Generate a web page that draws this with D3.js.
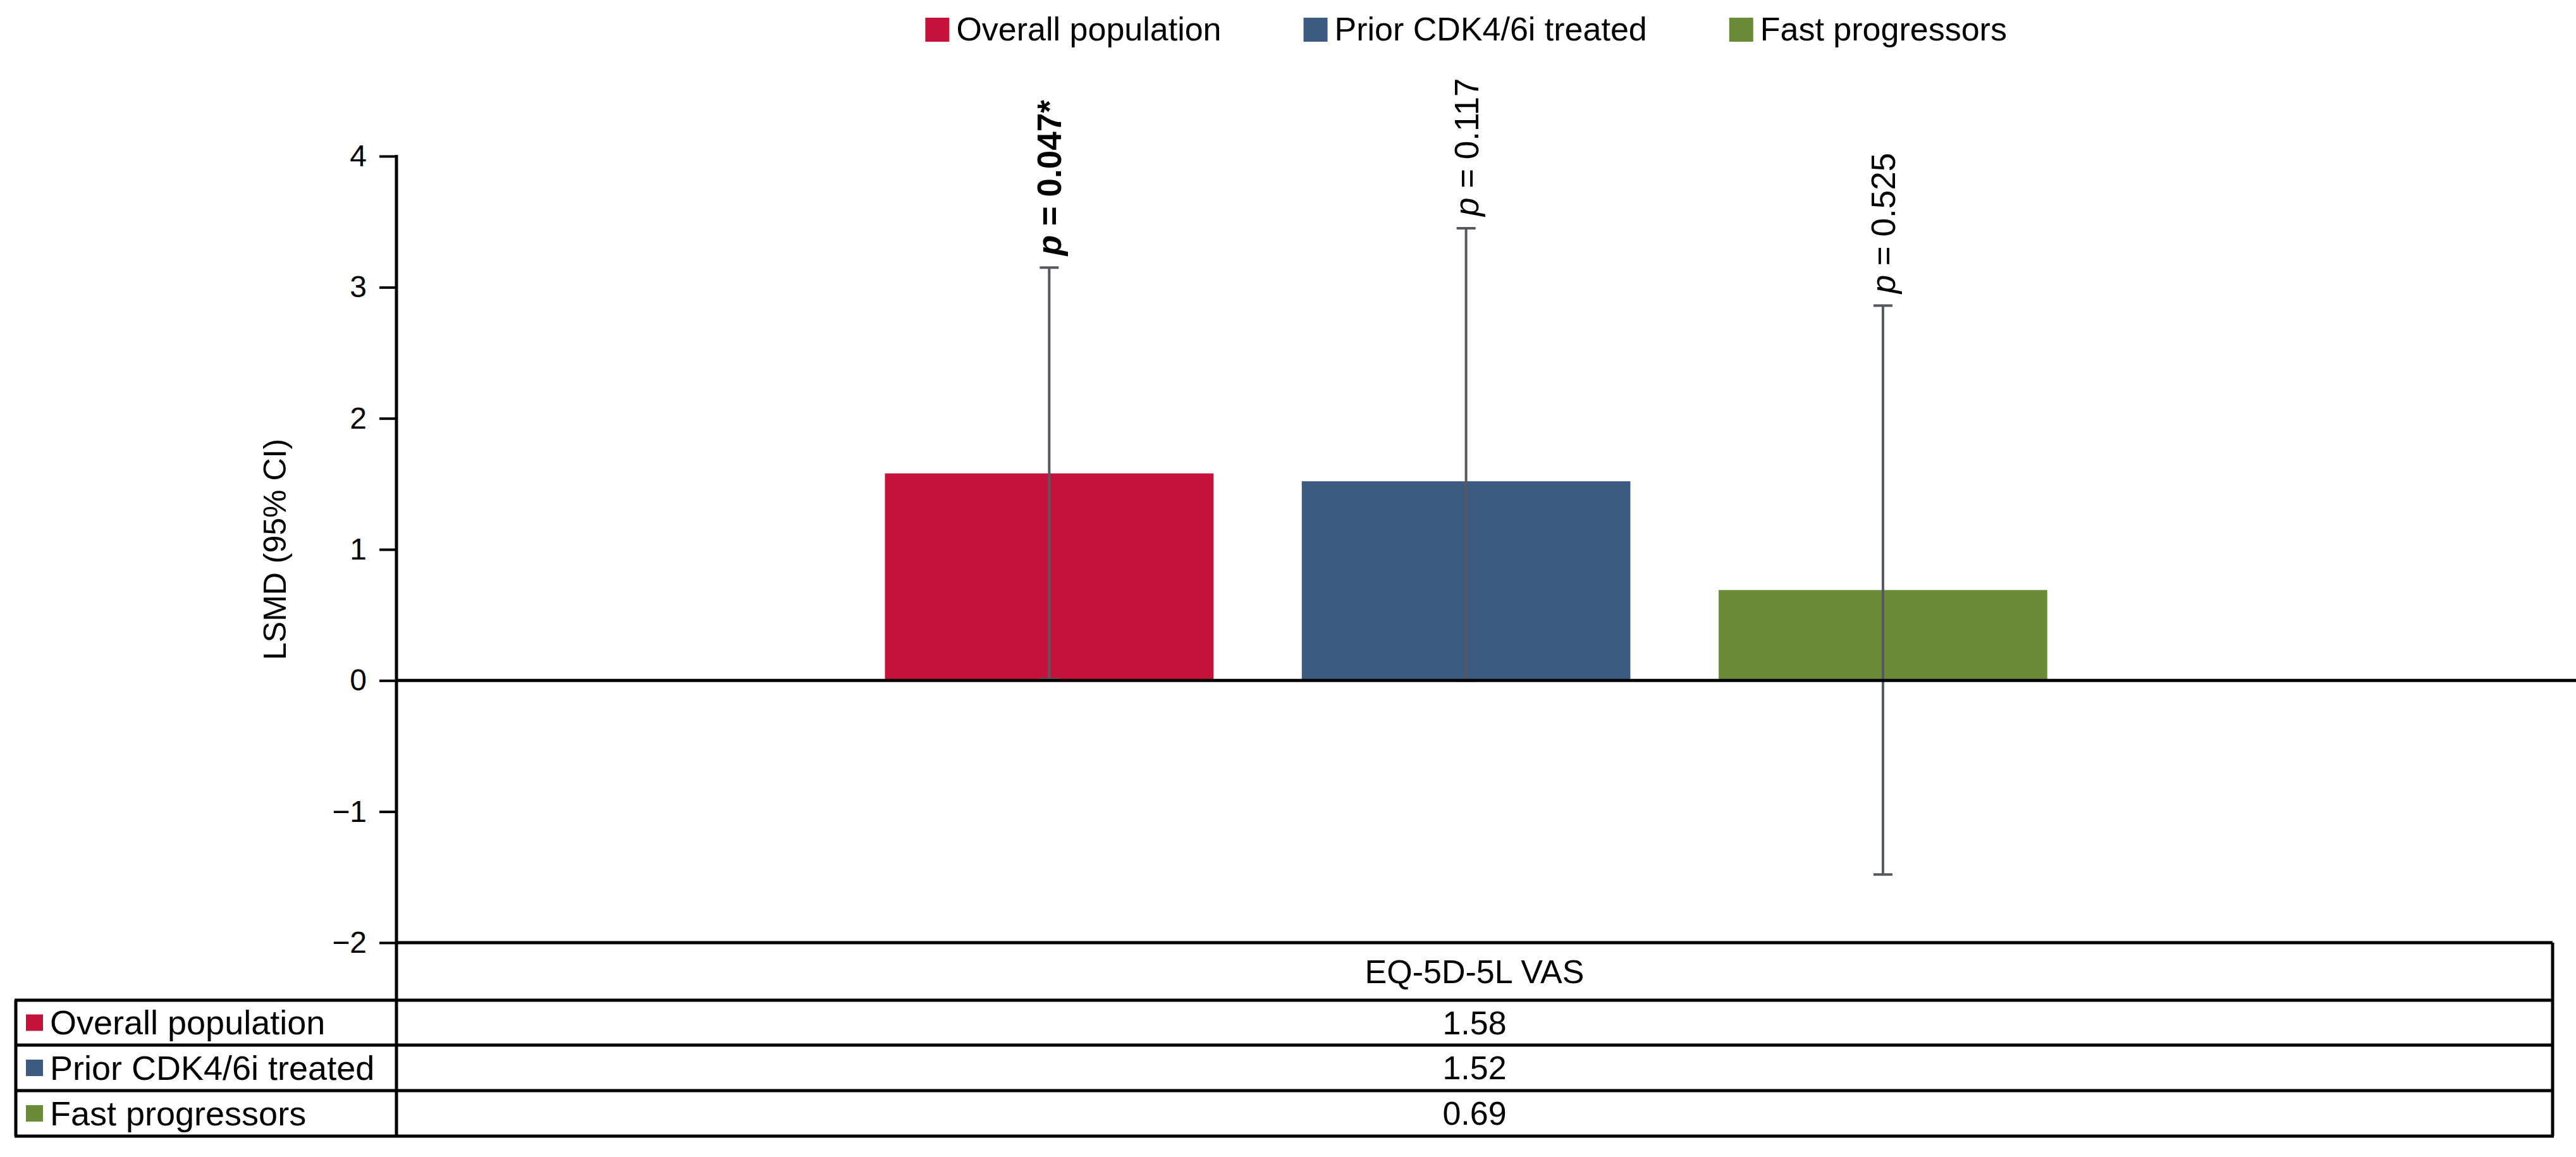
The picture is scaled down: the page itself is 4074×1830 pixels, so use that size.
<!DOCTYPE html>
<html><head><meta charset="utf-8">
<script src="https://cdn.jsdelivr.net/npm/d3@7"></script>
<style>
body{margin:0;background:#fff}
svg{display:block;font-family:"Liberation Sans",Arial,Helvetica,sans-serif}
</style>
</head><body>
<svg id="chart" width="4074" height="1830"></svg>
<script>
// ---- data ----
const categories = ["Overall population", "Prior CDK4/6i treated", "Fast progressors"];
const lsmd = [1.58, 1.52, 0.69];
const ciLower = [0.01, 0, -1.48];
const ciUpper = [3.15, 3.45, 2.86];
const pValues = ["0.047*", "0.117", "0.525"];
const pBold = [true, false, false];
const colors = ["#C4123A", "#3D5A80", "#6A8B38"];
const yTicks = [4, 3, 2, 1, 0, -1, -2];
const yTitle = "LSMD (95% CI)";
const tableHeader = "EQ-5D-5L VAS";

// ---- layout ----
const W = 4074, H = 1830;
const axisX = 627, tableRight = 4037, tableLeft = 25;
const svg = d3.select("#chart");

const y = d3.scaleLinear().domain([-2, 4]).range([1491, 247]);
const x = d3.scaleBand().domain(categories).range([axisX, tableRight])
  .paddingInner(0.2118).paddingOuter(1.192).align(0.4915);
const color = d3.scaleOrdinal().domain(categories).range(colors);

// bars
svg.append("g").selectAll("rect").data(categories).join("rect")
  .attr("x", d => x(d)).attr("width", x.bandwidth())
  .attr("y", (d, i) => y(Math.max(0, lsmd[i])))
  .attr("height", (d, i) => Math.abs(y(lsmd[i]) - y(0)))
  .attr("fill", d => color(d));

// error bars
const eb = svg.append("g").attr("stroke", "#55585e").attr("stroke-width", 4);
categories.forEach((c, i) => {
  const cx = x(c) + x.bandwidth() / 2;
  eb.append("line").attr("x1", cx).attr("x2", cx).attr("y1", y(ciUpper[i])).attr("y2", y(ciLower[i]));
  eb.append("line").attr("x1", cx - 15).attr("x2", cx + 15).attr("y1", y(ciUpper[i])).attr("y2", y(ciUpper[i]));
  eb.append("line").attr("x1", cx - 15).attr("x2", cx + 15).attr("y1", y(ciLower[i])).attr("y2", y(ciLower[i]));
});

// p labels
categories.forEach((c, i) => {
  const cx = x(c) + x.bandwidth() / 2;
  const t = svg.append("text")
    .attr("transform", `translate(${cx},${y(ciUpper[i]) - 19}) rotate(-90)`)
    .attr("text-anchor", "start").attr("dy", "0.36em")
    .attr("font-size", 53).attr("fill", "#000")
    .attr("font-weight", pBold[i] ? "bold" : "normal");
  t.append("tspan").attr("font-style", "italic").text("p");
  t.append("tspan").text(" = " + pValues[i]);
});

// zero line
svg.append("line").attr("x1", axisX).attr("x2", W).attr("y1", y(0)).attr("y2", y(0))
  .attr("stroke", "#000").attr("stroke-width", 5);

// y axis
const yAxis = svg.append("g").attr("transform", `translate(${axisX},0)`)
  .call(d3.axisLeft(y).tickValues(yTicks).tickSize(27).tickPadding(20).tickFormat(d3.format("d")));
yAxis.select(".domain").remove();
yAxis.selectAll(".tick line").attr("stroke", "#000").attr("stroke-width", 4);
yAxis.selectAll(".tick text").attr("font-size", 48).attr("fill", "#000")
  .attr("font-family", "'Liberation Sans',Arial,sans-serif");

// axis line (continues as table divider)
const rowTop = [y(-2), 1582, 1653, 1725, 1797];
svg.append("line").attr("x1", axisX).attr("x2", axisX).attr("y1", y(4) - 2).attr("y2", rowTop[4] + 2)
  .attr("stroke", "#000").attr("stroke-width", 5);

svg.append("text").attr("transform", `translate(452,${y(1)}) rotate(-90)`)
  .attr("text-anchor", "middle").attr("font-size", 50).attr("fill", "#000").text(yTitle);

// table
const tg = svg.append("g").attr("stroke", "#000").attr("stroke-width", 5);
tg.append("line").attr("x1", axisX).attr("x2", tableRight).attr("y1", rowTop[0]).attr("y2", rowTop[0]);
rowTop.slice(1).forEach(ry => tg.append("line").attr("x1", tableLeft - 2).attr("x2", tableRight + 2).attr("y1", ry).attr("y2", ry));
tg.append("line").attr("x1", tableLeft).attr("x2", tableLeft).attr("y1", rowTop[1]).attr("y2", rowTop[4]);
tg.append("line").attr("x1", tableRight).attr("x2", tableRight).attr("y1", rowTop[0]).attr("y2", rowTop[4]);

const colMid = (axisX + tableRight) / 2;
svg.append("text").attr("x", colMid).attr("y", (rowTop[0] + rowTop[1]) / 2).attr("dy", "0.35em")
  .attr("text-anchor", "middle").attr("font-size", 52).text(tableHeader);
categories.forEach((c, i) => {
  const cy = (rowTop[i + 1] + rowTop[i + 2]) / 2;
  svg.append("rect").attr("x", 41).attr("y", cy - 13).attr("width", 27).attr("height", 26).attr("fill", color(c));
  svg.append("text").attr("x", 79).attr("y", cy).attr("dy", "0.35em").attr("font-size", 54).text(c);
  svg.append("text").attr("x", colMid).attr("y", cy).attr("dy", "0.35em").attr("text-anchor", "middle")
    .attr("font-size", 52).text(d3.format(".2f")(lsmd[i]));
});

// legend (centred flow layout)
const lg = svg.append("g");
const sq = 38, sqGap = 11, itemGap = 130;
let cursor = 0;
categories.forEach(c => {
  const g = lg.append("g");
  g.append("rect").attr("x", 0).attr("y", 28).attr("width", sq).attr("height", sq).attr("fill", color(c));
  const t = g.append("text").attr("x", sq + sqGap).attr("y", 64).attr("font-size", 52).text(c);
  const w = sq + sqGap + t.node().getComputedTextLength();
  g.attr("transform", `translate(${cursor},0)`);
  cursor += w + itemGap;
});
const legendW = cursor - itemGap;
const legendCenter = (x(categories[0]) + x(categories[2]) + x.bandwidth()) / 2;
lg.attr("transform", `translate(${legendCenter - legendW / 2},0)`);
</script>
</body></html>
